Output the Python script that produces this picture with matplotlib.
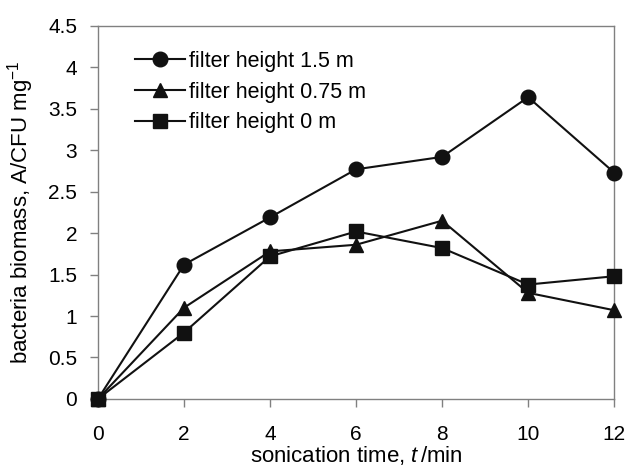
import matplotlib
matplotlib.use("Agg")
import matplotlib.pyplot as plt

plt.rcParams['font.family'] = ['Liberation Sans', 'DejaVu Sans']
plt.rcParams['mathtext.fontset'] = 'custom'
plt.rcParams['mathtext.it'] = 'Liberation Sans:italic'
plt.rcParams['mathtext.rm'] = 'Liberation Sans'

time_min = [0, 2, 4, 6, 8, 10, 12]
h150 = [0, 1.62, 2.19, 2.77, 2.92, 3.64, 2.73]
h075 = [0, 1.10, 1.78, 1.86, 2.15, 1.28, 1.07]
h000 = [0, 0.80, 1.72, 2.02, 1.82, 1.38, 1.48]
labels = ["filter height 1.5 m", "filter height 0.75 m", "filter height 0 m"]
xticks = [0, 2, 4, 6, 8, 10, 12]
yticks = [0, 0.5, 1, 1.5, 2, 2.5, 3, 3.5, 4, 4.5]

fig = plt.figure(figsize=(6.28, 4.71), dpi=100)
ax = fig.add_axes([0.156, 0.153, 0.822, 0.792])

ax.plot(time_min, h150, '-o', color='#111111', lw=1.5, ms=10.5, label=labels[0], clip_on=False, zorder=3)
ax.plot(time_min, h075, '-^', color='#111111', lw=1.5, ms=10.5, label=labels[1], clip_on=False, zorder=3)
ax.plot(time_min, h000, '-s', color='#111111', lw=1.5, ms=9.5, label=labels[2], clip_on=False, zorder=3)

ax.set_xlim(0, 12)
ax.set_ylim(0, 4.5)
ax.set_xticks(xticks)
ax.set_xticklabels([str(v) for v in xticks])
ax.set_yticks(yticks)
ax.set_yticklabels([f"{v:g}" for v in yticks])

for s in ax.spines.values():
    s.set_color('#808080')
    s.set_linewidth(1.0)
ax.tick_params(axis='both', direction='out', color='#808080', labelsize=15, length=6, width=1.0)
ax.tick_params(axis='x', pad=13)
ax.tick_params(axis='y', pad=9)

ax.set_xlabel(r"sonication time, $\it{t}\,$/min", fontsize=16, labelpad=0)
ax.set_ylabel(r"bacteria biomass, A/CFU mg$^{-1}$", fontsize=16, labelpad=9)

leg = ax.legend(loc='upper left', frameon=False, fontsize=15.5, handlelength=2.3,
                bbox_to_anchor=(0.035, 0.985), labelspacing=0.45, handletextpad=0.2)

fig.savefig("out.png", dpi=100)
